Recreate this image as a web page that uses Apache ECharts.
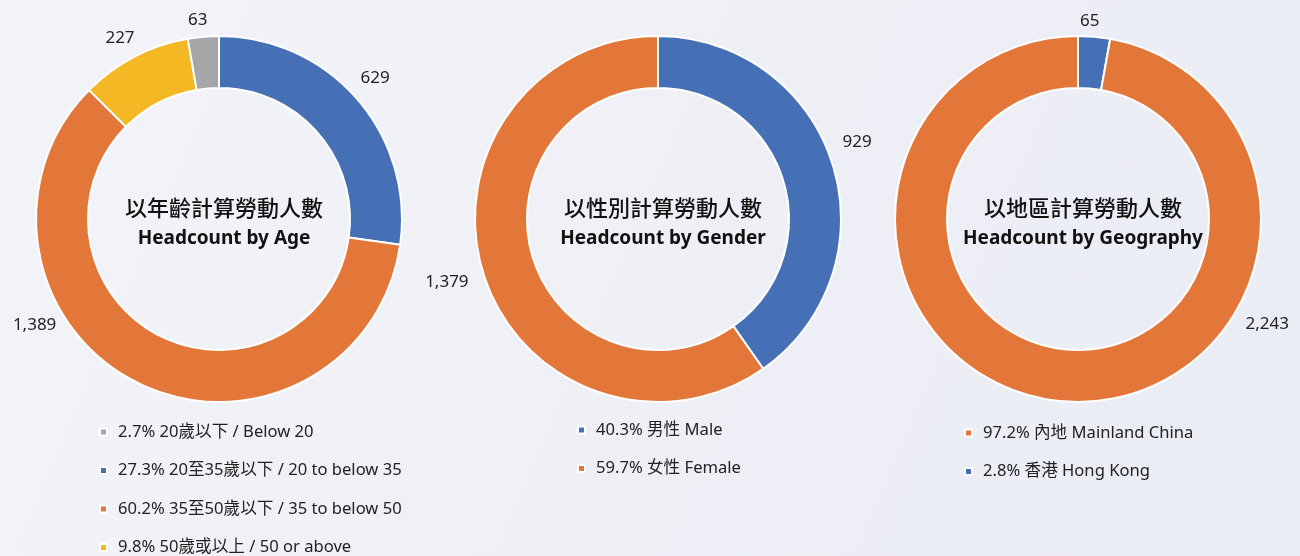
<!DOCTYPE html>
<html lang="zh-Hant">
<head>
    <meta charset="UTF-8">
    <title>Headcount</title>
    <style>
        html, body { margin: 0; padding: 0; }
        #main { width: 1300px; height: 556px; }
    </style>
</head>
<body>
    <div id="main"></div>
    <script src="https://cdn.jsdelivr.net/npm/echarts@6/dist/echarts.min.js"></script>
    <script>
        // 數據
        var ageNames = ['20至35歲以下 / 20 to below 35', '35至50歲以下 / 35 to below 50', '50歲或以上 / 50 or above', '20歲以下 / Below 20'];
        var ageValues = [629, 1389, 227, 63];
        var ageLegend = ['20歲以下 / Below 20', '20至35歲以下 / 20 to below 35', '35至50歲以下 / 35 to below 50', '50歲或以上 / 50 or above'];

        var genderNames = ['男性 Male', '女性 Female'];
        var genderValues = [929, 1379];

        var geoNames = ['香港 Hong Kong', '內地 Mainland China'];
        var geoValues = [65, 2243];
        var geoLegend = ['內地 Mainland China', '香港 Hong Kong'];

        var blue = '#4570b6', orange = '#e3773a', yellow = '#f3b823', grey = '#a6a5a8';
        var font = "'Noto Sans', 'Noto Sans CJK TC', sans-serif";
        var cy = 219, rIn = 131, rOut = 183, rLabel = 212;

        function pct(names, values) {
            var total = values.reduce(function (a, b) { return a + b; }, 0);
            var map = {};
            names.forEach(function (n, i) { map[n] = (values[i] / total * 100).toFixed(1) + '% ' + n; });
            return map;
        }
        var pctMap = Object.assign({}, pct(ageNames, ageValues), pct(genderNames, genderValues), pct(geoNames, geoValues));

        // 每個扇區的中間角度（從頂部順時針）
        function midAngles(values) {
            var total = values.reduce(function (a, b) { return a + b; }, 0);
            var acc = 0;
            return values.map(function (v) {
                var a = (acc + v / 2) / total * Math.PI * 2;
                acc += v;
                return a;
            });
        }

        function pieSeries(cx, names, values, colors, nudge) {
            var mids = midAngles(values);
            return {
                type: 'pie',
                center: [cx, cy],
                radius: [rIn, rOut],
                startAngle: 90,
                avoidLabelOverlap: false,
                color: colors,
                itemStyle: { borderColor: '#fff', borderWidth: 2 },
                label: {
                    show: true,
                    position: 'outside',
                    fontFamily: font,
                    fontSize: 17,
                    color: '#222',
                    formatter: function (p) { return p.value.toLocaleString('en-US'); }
                },
                labelLine: { show: false },
                labelLayout: function (p) {
                    var a = mids[p.dataIndex], d = nudge[p.dataIndex];
                    return {
                        x: cx + rLabel * Math.sin(a) + d[0],
                        y: cy - rLabel * Math.cos(a) + d[1],
                        align: 'center',
                        verticalAlign: 'middle'
                    };
                },
                emphasis: { disabled: true },
                data: names.map(function (n, i) { return { name: n, value: values[i] }; })
            };
        }

        function legend(left, top, data) {
            return {
                orient: 'vertical',
                left: left,
                top: top,
                height: 170,
                icon: 'rect',
                itemWidth: 7,
                itemHeight: 7,
                itemGap: 20.5,
                selectedMode: false,
                data: data,
                formatter: function (n) { return pctMap[n]; },
                textStyle: { fontFamily: font, fontSize: 16.6, color: '#222', lineHeight: 18, padding: [0, 0, 0, 6] }
            };
        }

        function title(cx, zh, en) {
            return {
                left: cx,
                top: 190,
                textAlign: 'center',
                text: '{a|' + zh + '}\n{b|' + en + '}',
                textStyle: {
                    rich: {
                        a: { fontFamily: font, fontSize: 22, fontWeight: 500, color: '#111', lineHeight: 30 },
                        b: { fontFamily: font, fontSize: 19, fontWeight: 'bold', color: '#111', lineHeight: 28 }
                    }
                }
            };
        }

        var myChart = echarts.init(document.getElementById('main'));
        var option = {
            backgroundColor: new echarts.graphic.LinearGradient(0, 0, 1, 1, [
                { offset: 0, color: '#f3f4f8' },
                { offset: 1, color: '#eaecf4' }
            ]),
            animation: false,
            title: [
                title(219, '以年齡計算勞動人數', 'Headcount by Age'),
                title(658, '以性別計算勞動人數', 'Headcount by Gender'),
                title(1078, '以地區計算勞動人數', 'Headcount by Geography')
            ],
            legend: [
                legend(94, 418, ageLegend),
                legend(572, 416, genderNames),
                legend(959, 419, geoLegend)
            ],
            series: [
                pieSeries(219, ageNames, ageValues, [blue, orange, yellow, grey], [[-4, -2], [-90, -84], [-1, 7], [-3, 12]]),
                pieSeries(658, genderNames, genderValues, [blue, orange], [[-3, -13], [-9, -1]]),
                pieSeries(1078, geoNames, geoValues, [blue, orange], [[-7, 13], [208, -106]])
            ]
        };
        myChart.setOption(option);
    </script>
</body>
</html>
